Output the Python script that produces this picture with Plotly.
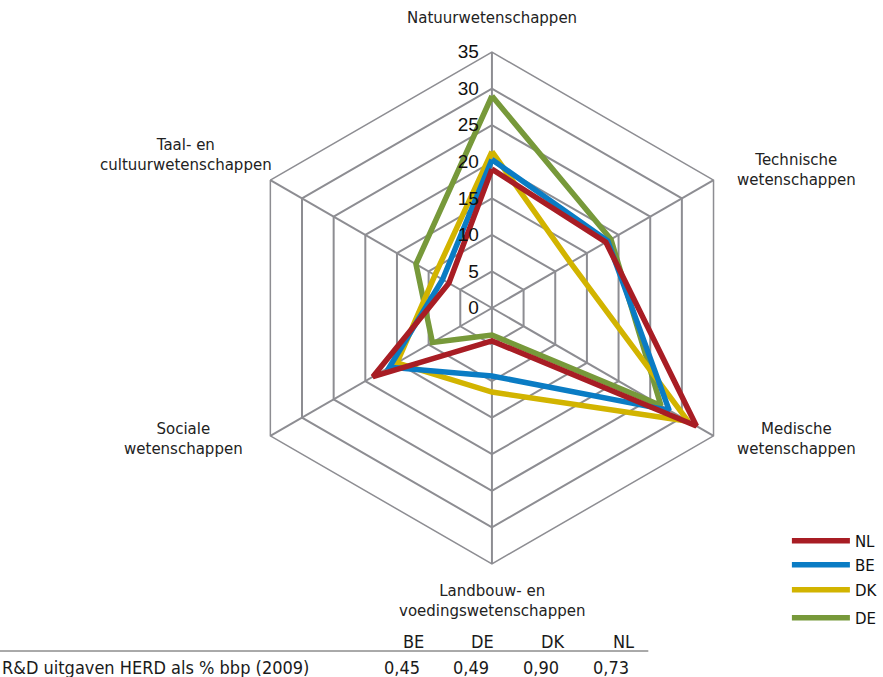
import plotly.graph_objects as go

# Share of R&D (%) per field of science
categories = [
    "Natuurwetenschappen",
    "Technische wetenschappen",
    "Medische wetenschappen",
    "Landbouw- en voedingswetenschappen",
    "Sociale wetenschappen",
    "Taal- en cultuurwetenschappen",
]
axis_labels = [
    "Natuurwetenschappen",
    "Technische<br>wetenschappen",
    "Medische<br>wetenschappen",
    "Landbouw- en<br>voedingswetenschappen",
    "Sociale<br>wetenschappen",
    "Taal- en<br>cultuurwetenschappen",
]
nl = [19.0, 18.0, 32.3, 4.5, 18.8, 6.8]
be = [20.3, 18.3, 28.0, 9.3, 16.2, 7.8]
dk = [21.4, 12.4, 31.0, 11.5, 15.0, 9.0]
de = [29.0, 18.8, 26.7, 3.7, 9.4, 12.0]

radial_ticks = [0, 5, 10, 15, 20, 25, 30, 35]

# HERD table below the chart
table_countries = ["BE", "DE", "DK", "NL"]
herd_values = ["0,45", "0,49", "0,90", "0,73"]
table_label = "R&D uitgaven HERD als % bbp (2009)"

W, H = 883, 677
cx, cy, R = 497, 308, 258.5

label_font = dict(family="DejaVu Sans", size=15, color="#222222")
table_font = dict(family="DejaVu Sans Condensed, Liberation Sans, sans-serif", size=18, color="#1a1a1a")
grid = "#8d8d92"


def px(x):
    return x / W


def py(y):
    return 1 - y / H


fig = go.Figure()

# drawn bottom to top: DE, DK, BE, NL; each has its own legend box
traces = [
    ("DE", de, "#77993a", "legend4", 618),
    ("DK", dk, "#d2b400", "legend3", 590),
    ("BE", be, "#0a7cc4", "legend2", 565),
    ("NL", nl, "#a81d24", "legend", 541),
]
legend_boxes = {}
for name, vals, col, leg, ly in traces:
    fig.add_trace(go.Scatterpolar(
        r=vals + vals[:1],
        theta=categories + categories[:1],
        mode="lines",
        name=name,
        legend=leg,
        showlegend=True,
        line=dict(color=col, width=5.5),
    ))
    legend_boxes[leg] = dict(
        x=px(795), y=py(ly), xanchor="left", yanchor="middle",
        itemwidth=58,
        font=dict(family="DejaVu Sans", size=15, color="#111111"),
        bgcolor="rgba(0,0,0,0)",
    )

label_pos = [
    (497, 18),
    (805, 170),
    (805, 439),
    (497, 601),
    (185, 439),
    (188, 155),
]
annotations = []
for text, (x, y) in zip(axis_labels, label_pos):
    annotations.append(dict(
        text=text, x=px(x), y=py(y), xref="paper", yref="paper",
        xanchor="center", yanchor="middle", showarrow=False,
        font=label_font, align="center",
    ))

header_x = [430, 501, 572, 643]
value_x = [426, 496, 567, 637]
for c, v, hx, vx in zip(table_countries, herd_values, header_x, value_x):
    annotations.append(dict(
        text=c, x=px(hx), y=py(641), xref="paper", yref="paper",
        xanchor="right", yanchor="middle", showarrow=False, font=table_font,
    ))
    annotations.append(dict(
        text=v, x=px(vx), y=py(667), xref="paper", yref="paper",
        xanchor="right", yanchor="middle", showarrow=False, font=table_font,
    ))
annotations.append(dict(
    text=table_label, x=0, y=py(667), xref="paper", yref="paper",
    xanchor="left", yanchor="middle", showarrow=False, font=table_font,
))

fig.update_layout(
    width=W, height=H,
    margin=dict(l=0, r=0, t=0, b=0),
    showlegend=True,
    paper_bgcolor="white",
    plot_bgcolor="white",
    polar=dict(
        domain=dict(x=[(cx - R) / W, (cx + R) / W],
                    y=[(H - cy - R) / H, (H - cy + R) / H]),
        gridshape="linear",
        bgcolor="white",
        radialaxis=dict(
            range=[0, 35], tickvals=radial_ticks, angle=90,
            side="counterclockwise",
            showline=False, gridcolor=grid, gridwidth=1.5,
            ticks="outside", ticklen=6, tickcolor="rgba(0,0,0,0)",
            tickfont=dict(family="Liberation Sans", size=19, color="#111111"),
            tickangle=90,
        ),
        angularaxis=dict(
            direction="clockwise", rotation=90,
            showticklabels=False, ticks="",
            gridcolor=grid, gridwidth=1.5,
            linecolor=grid, linewidth=1.5, showline=True,
        ),
    ),
    annotations=annotations,
    shapes=[dict(type="line", xref="paper", yref="paper",
                 x0=0, x1=px(655), y0=py(651), y1=py(651),
                 line=dict(color="#555555", width=1))],
    **legend_boxes,
)

fig.write_html("out.html")
